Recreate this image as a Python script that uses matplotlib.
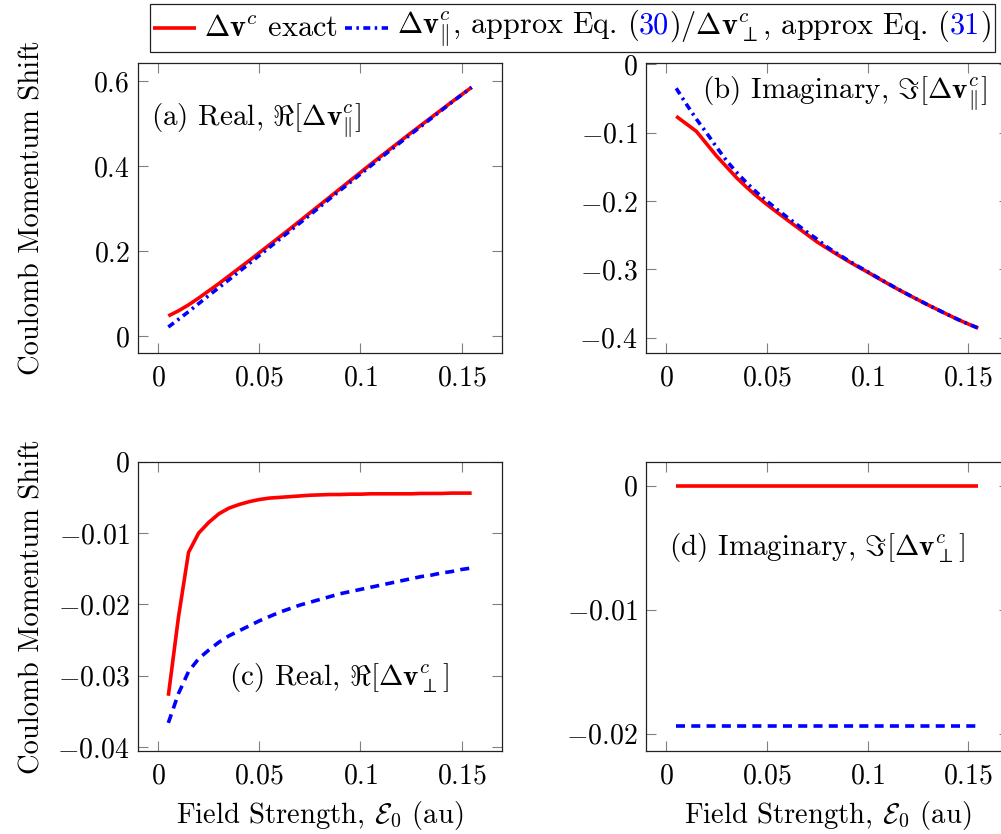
import numpy as np
import matplotlib
matplotlib.use("Agg")
import matplotlib.pyplot as plt
from matplotlib.offsetbox import AnchoredOffsetbox, HPacker, TextArea, DrawingArea
from matplotlib.lines import Line2D

plt.rcParams['font.family'] = 'serif'
plt.rcParams['font.serif'] = ['cmr10']
plt.rcParams['mathtext.fontset'] = 'cm'
plt.rcParams['axes.formatter.use_mathtext'] = True
plt.rcParams['axes.unicode_minus'] = True
plt.rcParams['lines.scale_dashes'] = False

# field strengths (au)
field = [0.005, 0.010, 0.015, 0.020, 0.025, 0.030, 0.035, 0.040, 0.045, 0.050,
         0.055, 0.060, 0.065, 0.070, 0.075, 0.080, 0.085, 0.090, 0.095, 0.100,
         0.105, 0.110, 0.115, 0.120, 0.125, 0.130, 0.135, 0.140, 0.145, 0.150, 0.155]

# (a) real part, parallel
re_par_exact = [0.048, 0.060, 0.074, 0.090, 0.107, 0.124, 0.142, 0.160, 0.178, 0.1965,
                0.215, 0.2335, 0.252, 0.271, 0.290, 0.309, 0.328, 0.347, 0.366, 0.385,
                0.404, 0.4225, 0.441, 0.4595, 0.478, 0.496, 0.514, 0.532, 0.550, 0.5675, 0.585]
re_par_approx = [0.022, 0.040, 0.058, 0.077, 0.096, 0.1145, 0.133, 0.152, 0.171, 0.190,
                 0.209, 0.228, 0.247, 0.266, 0.285, 0.3045, 0.324, 0.343, 0.362, 0.381,
                 0.400, 0.419, 0.438, 0.4565, 0.475, 0.4935, 0.512, 0.5305, 0.549, 0.567, 0.585]
# (b) imaginary part, parallel
im_par_exact = [-0.076, -0.087, -0.098, -0.116, -0.134, -0.150, -0.166, -0.180, -0.193, -0.205,
                -0.2163, -0.2274, -0.2383, -0.2491, -0.260, -0.2693, -0.2784, -0.2873, -0.2958, -0.304,
                -0.3125, -0.3208, -0.329, -0.3368, -0.3445, -0.352, -0.3593, -0.3665, -0.3735, -0.380, -0.386]
im_par_approx = [-0.035, -0.058, -0.080, -0.100, -0.121, -0.141, -0.158, -0.1735, -0.1875, -0.200,
                 -0.212, -0.2235, -0.2345, -0.2455, -0.256, -0.2675, -0.277, -0.2862, -0.295, -0.3034,
                 -0.312, -0.3205, -0.3288, -0.3367, -0.3444, -0.352, -0.3593, -0.3665, -0.3735, -0.380, -0.386]
# (c) real part, perpendicular
re_perp_exact = [-0.0328, -0.0218, -0.0127, -0.0100, -0.0085, -0.0073, -0.0065, -0.0060, -0.0056, -0.0053,
                 -0.0051, -0.0050, -0.0049, -0.0048, -0.0047, -0.00465, -0.0046, -0.0046, -0.00455, -0.00455,
                 -0.0045, -0.0045, -0.0045, -0.0045, -0.0045, -0.00445, -0.00445, -0.00445, -0.0044, -0.0044, -0.0044]
re_perp_approx = [-0.0366, -0.0325, -0.0294, -0.0276, -0.0264, -0.0253, -0.0244, -0.0237, -0.0230, -0.0223,
                  -0.0217, -0.0211, -0.0206, -0.0201, -0.0197, -0.0193, -0.0189, -0.0185, -0.0182, -0.0179,
                  -0.0176, -0.0173, -0.0170, -0.0167, -0.0164, -0.0161, -0.0159, -0.0156, -0.0154, -0.0151, -0.0149]
# (d) imaginary part, perpendicular
im_perp_exact = [0.0] * 31
im_perp_approx = [-0.0194] * 31

xticks = [0, 0.05, 0.1, 0.15]
xticklabels = ['0', '0.05', '0.1', '0.15']
yticks_a = [0, 0.2, 0.4, 0.6]
yticklabels_a = ['0', '0.2', '0.4', '0.6']
yticks_b = [0, -0.1, -0.2, -0.3, -0.4]
yticklabels_b = ['0', '-0.1', '-0.2', '-0.3', '-0.4']
yticks_c = [0, -0.01, -0.02, -0.03, -0.04]
yticklabels_c = ['0', '-0.01', '-0.02', '-0.03', '-0.04']
yticks_d = [0, -0.01, -0.02]
yticklabels_d = ['0', '-0.01', '-0.02']

RED = (1, 0, 0)
BLUE = (0, 0, 1)
FS_TICK = 20
FS_LAB = 20.6
FS_ANN = 21
FS_LEG = 21.8
DASHDOT = (0, (5, 3.2, 1.8, 3.2))
DASHED = (0, (6.5, 4.5))

fig = plt.figure(figsize=(10.01, 8.34), dpi=100)
W, H = 1001.0, 834.0


def make_ax(l, t, r, b):
    return fig.add_axes([l / W, 1 - b / H, (r - l) / W, (b - t) / H])


ax_a = make_ax(138, 63, 502, 353)
ax_b = make_ax(646, 63, 1008.5, 352.7)
ax_c = make_ax(138, 461.7, 502, 750.7)
ax_d = make_ax(646, 461.7, 1008.5, 750.7)

panels = [
    (ax_a, re_par_exact, re_par_approx, DASHDOT, (-0.039, 0.642), yticks_a, yticklabels_a,
     r'(a) Real, $\Re[\mathbf{\Delta v}^c_{\|}]$', (0.036, 0.80)),
    (ax_b, im_par_exact, im_par_approx, DASHDOT, (-0.422, 0.002), yticks_b, yticklabels_b,
     r'(b) Imaginary, $\Im[\mathbf{\Delta v}^c_{\|}]$', (0.155, 0.895)),
    (ax_c, re_perp_exact, re_perp_approx, DASHED, (-0.0405, 0.0), yticks_c, yticklabels_c,
     r'(c) Real, $\Re[\mathbf{\Delta v}^c_{\perp}]$', (0.250, 0.25)),
    (ax_d, im_perp_exact, im_perp_approx, DASHED, (-0.02137, 0.00194), yticks_d, yticklabels_d,
     r'(d) Imaginary, $\Im[\mathbf{\Delta v}^c_{\perp}]$', (0.064, 0.70)),
]

for ax, exact, approx, ls, ylim, yt, ytl, label, pos in panels:
    ax.plot(field, exact, color=RED, lw=2.6, solid_capstyle='butt')
    ax.plot(field, approx, color=BLUE, lw=2.6, linestyle=ls, dash_capstyle='butt')
    ax.set_xlim(-0.01, 0.17)
    ax.set_ylim(*ylim)
    ax.set_xticks(xticks)
    ax.set_xticklabels(['$' + s + '$' for s in xticklabels], fontsize=FS_TICK)
    ax.set_yticks(yt)
    ax.set_yticklabels(['$' + s + '$' for s in ytl], fontsize=FS_TICK)
    ax.tick_params(direction='in', length=7.5, width=0.8, color='#808080',
                   top=True, right=True)
    ax.tick_params(axis='x', pad=9)
    ax.tick_params(axis='y', pad=6)
    for sp in ax.spines.values():
        sp.set_linewidth(0.9)
        sp.set_color('#222222')
    ax.text(pos[0], pos[1], label, transform=ax.transAxes, fontsize=FS_ANN,
            ha='left', va='center')

for ax in (ax_a, ax_c):
    ax.set_ylabel('Coulomb Momentum Shift', fontsize=FS_LAB)
    ax.yaxis.set_label_coords(-0.255, 0.5)
for ax in (ax_c, ax_d):
    ax.set_xlabel(r'Field Strength, $\mathcal{E}_0$ (au)', fontsize=FS_LAB, labelpad=7)


def handle(color, ls):
    da = DrawingArea(31, 10, 0, 0)
    ln = Line2D([0, 31], [5, 5], color=color, lw=2.6, linestyle=ls,
                solid_capstyle='butt', dash_capstyle='butt')
    da.add_artist(ln)
    return da


def txt(s, color='black'):
    return TextArea(s, textprops=dict(fontsize=FS_LEG, color=color))


g1 = HPacker(children=[handle(RED, '-'), txt(r'$\mathbf{\Delta v}^c$ exact')],
             align='center', pad=0, sep=6)
g2_text = HPacker(children=[txt(r'$\mathbf{\Delta v}^c_{\|}$, approx Eq. ('),
                            txt('30', BLUE),
                            txt(r')/$\mathbf{\Delta v}^c_{\perp}$, approx Eq. ('),
                            txt('31', BLUE), txt(')')],
                  align='baseline', pad=0, sep=0)
g2 = HPacker(children=[handle(BLUE, DASHDOT), g2_text], align='center', pad=0, sep=6)
row = HPacker(children=[g1, g2], align='center', pad=0, sep=5)

leg = AnchoredOffsetbox(loc='upper center', child=row, pad=0.2, borderpad=0,
                        frameon=True, bbox_to_anchor=(572.5 / W, 1 - 4 / H),
                        bbox_transform=fig.transFigure)
leg.patch.set_edgecolor('#222222')
leg.patch.set_linewidth(0.9)
leg.patch.set_boxstyle('square', pad=0)
fig.add_artist(leg)

fig.savefig('out.png', dpi=100)
